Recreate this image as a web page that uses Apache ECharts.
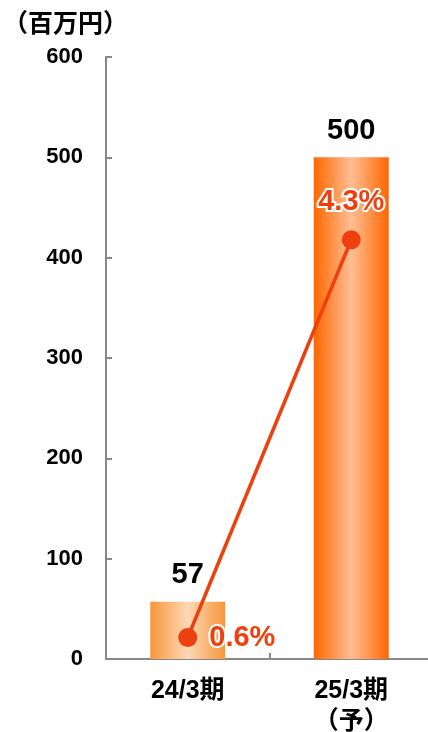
<!DOCTYPE html>
<html>
<head>
<meta charset="utf-8">
<style>
  html, body { margin: 0; padding: 0; background: #fff; }
  #chart { width: 428px; height: 732px; }
</style>
<script src="https://cdn.jsdelivr.net/npm/echarts@6/dist/echarts.min.js"></script>
</head>
<body>
<div id="chart"></div>
<script>
// Fiscal periods and values
const categories = ['24/3期', '25/3期\n（予）'];
const profit = [57, 500];          // 百万円
const margin = [0.6, 4.3];         // %
const yTicks = [0, 100, 200, 300, 400, 500, 600];

const FONT = '"Liberation Sans", Arial, "Noto Sans CJK JP", sans-serif';

function barGradient(edge, center) {
  return new echarts.graphic.LinearGradient(0, 0, 1, 0, [
    { offset: 0, color: edge },
    { offset: 0.5, color: center },
    { offset: 1, color: edge }
  ]);
}
const barColors = [
  barGradient('#F7963A', '#FDD8B6'),
  barGradient('#FF6600', '#FFBE93')
];

const chart = echarts.init(document.getElementById('chart'), null, { renderer: 'canvas' });

chart.setOption({
  animation: false,
  backgroundColor: '#ffffff',
  title: {
    text: '（百万円）',
    left: -2,
    top: 8,
    textStyle: { fontFamily: FONT, fontSize: 25, fontWeight: 'bold', color: '#000' }
  },
  grid: {
    left: 106, right: -5, top: 57, bottom: 73,
    containLabel: false, outerBoundsMode: 'none'
  },
  xAxis: {
    type: 'category',
    data: categories,
    axisLine: { lineStyle: { color: '#888888', width: 2 } },
    axisTick: { show: true, alignWithLabel: false, length: 6, inside: true, lineStyle: { color: '#888888', width: 2 } },
    axisLabel: {
      fontFamily: FONT, fontSize: 25, fontWeight: 'bold', color: '#000',
      margin: 17, lineHeight: 31
    }
  },
  yAxis: [
    {
      type: 'value',
      min: 0, max: 600, interval: 100,
      axisLine: { show: true, lineStyle: { color: '#888888', width: 2 } },
      axisTick: { show: true, inside: true, length: 6, lineStyle: { color: '#888888', width: 2 } },
      splitLine: { show: false },
      axisLabel: {
        fontFamily: FONT, fontSize: 22, fontWeight: 'bold', color: '#000', margin: 23,
        formatter: v => yTicks.includes(v) ? String(v) : ''
      }
    },
    {
      type: 'value',
      min: 0.4, max: 6.0,
      show: false,
      splitLine: { show: false }
    }
  ],
  series: [
    {
      type: 'bar',
      barWidth: 75,
      data: profit.map((v, i) => ({ value: v, itemStyle: { color: barColors[i] } })),
      label: {
        show: true, position: 'top', distance: 12,
        fontFamily: FONT, fontSize: 29, fontWeight: 'bold', color: '#000'
      },
      z: 2
    },
    {
      type: 'line',
      yAxisIndex: 1,
      data: [
        { value: margin[0], label: { position: 'right', distance: 12 } },
        { value: margin[1], label: { position: 'top', distance: 14 } }
      ],
      symbol: 'circle',
      symbolSize: 19,
      lineStyle: { color: '#EE400E', width: 3.5 },
      itemStyle: { color: '#EE400E' },
      label: {
        show: true,
        formatter: p => p.value.toFixed(1) + '%',
        fontFamily: FONT, fontSize: 29, fontWeight: 'bold', color: '#EE400E',
        textBorderColor: '#ffffff', textBorderWidth: 4
      },
      z: 3
    }
  ]
});
</script>
</body>
</html>
